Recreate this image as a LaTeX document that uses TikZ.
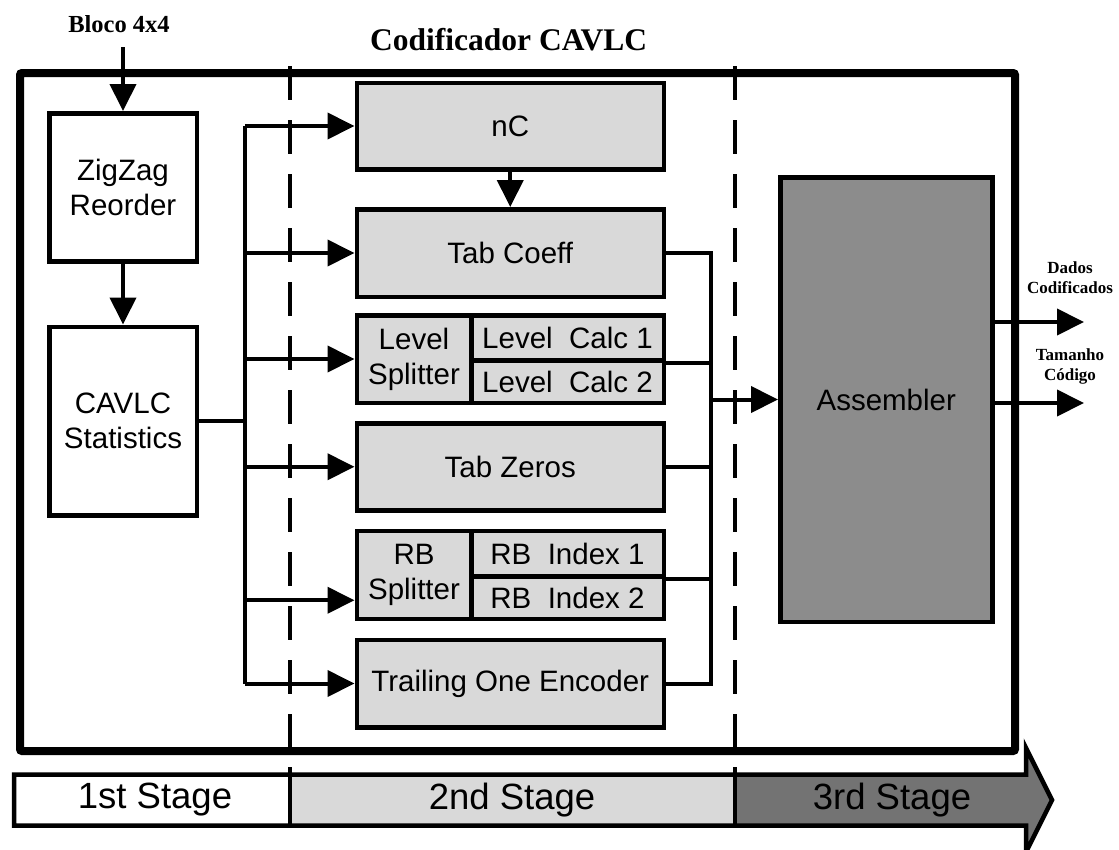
\documentclass[tikz,border=0pt]{standalone}
\usepackage{fontspec}
\setmainfont{Liberation Sans}
\newfontfamily\labelserif{Liberation Serif}
\usetikzlibrary{arrows.meta}

\definecolor{boxgray}{HTML}{D9D9D9}
\definecolor{asmgray}{HTML}{8C8C8C}
\definecolor{stagedark}{HTML}{737373}

\newcommand\boxfont{\fontsize{29.5}{35}\selectfont}
\newcommand\stagefont{\fontsize{36.5}{40}\selectfont}
\newcommand\sidefont{\labelserif\bfseries\fontsize{17}{20}\selectfont}

\begin{document}
\begin{tikzpicture}[x=1pt,y=-1pt,
  box/.style={draw, line width=4.5pt, fill=boxgray, inner sep=0pt,
              align=center, font=\boxfont, anchor=north west},
  wire/.style={line width=4pt},
  arr/.style={wire, -{Triangle[length=27pt,width=26pt]}},
  divider/.style={line width=4pt, dash pattern=on 34pt off 20pt},
  lab/.style={inner sep=0pt, align=center}]

\useasboundingbox (0,0) rectangle (1119,849);

% outer frame of the encoder
\node[draw, line width=8pt, rounded corners=2pt, inner sep=0pt,
      minimum width=995pt, minimum height=678pt, anchor=north west]
      (frame) at (16,69) {};

% stage dividers
\draw[divider] (290,66) -- (290,747);
\draw[divider] (735,66) -- (735,747);

% titles
\node[lab, anchor=base west, font=\labelserif\bfseries\fontsize{31.5}{36}\selectfont]
      (title) at (370,50) {Codificador CAVLC};
\node[lab, anchor=base, font=\labelserif\bfseries\fontsize{24.5}{28}\selectfont]
      (bloco) at (119,32) {Bloco 4x4};

% first stage
\node[box, fill=white, minimum width=147.5pt, minimum height=148pt]
      (zz) at (47,111) {ZigZag\\Reorder};
\node[box, fill=white, minimum width=147.5pt, minimum height=188.5pt]
      (stats) at (47,324.5) {CAVLC\\Statistics};

% second stage
\node[box, minimum width=307pt, minimum height=86.5pt] (nc) at (354.5,80.5) {nC};
\node[box, minimum width=307pt, minimum height=87.5pt] (tc) at (354.5,207) {Tab Coeff};
\node[box, minimum width=114.5pt, minimum height=87.5pt] (levs) at (354.5,313) {Level\\Splitter};
\node[box, minimum width=192.5pt, minimum height=45pt] (lc1) at (469,313) {Level~~Calc 1};
\node[box, minimum width=192.5pt, minimum height=42.5pt] (lc2) at (469,358) {Level~~Calc 2};
\node[box, minimum width=307pt, minimum height=87pt] (tz) at (354.5,421) {Tab Zeros};
\node[box, minimum width=114.5pt, minimum height=88pt] (rbs) at (354.5,528.5) {RB\\Splitter};
\node[box, minimum width=192.5pt, minimum height=45.5pt] (rb1) at (469,528.5) {RB~~Index 1};
\node[box, minimum width=192.5pt, minimum height=42.5pt] (rb2) at (469,574) {RB~~Index 2};
\node[box, minimum width=307pt, minimum height=87.5pt] (trail) at (354.5,637.5) {Trailing One Encoder};

% third stage
\node[box, fill=asmgray, minimum width=212pt, minimum height=444.5pt]
      (asm) at (778,175) {Assembler};

% input side
\draw[arr, shorten <=15pt] (bloco.south -| zz.north) -- (zz.north);
\draw[arr] (zz.south) -- (stats.north);

% distribution bus
\coordinate (bus) at (245,0);
\coordinate (rbin) at ([yshift=-25.5pt]rbs.west);
\draw[wire] (stats.east) -- (stats.east -| bus);
\draw[wire] (nc.west -| bus) -- (trail.west -| bus);
\foreach \n in {nc,tc,levs,tz,trail}
  \draw[arr] (\n.west -| bus) -- (\n.west);
\draw[arr] (rbin -| bus) -- (rbin);
\draw[arr] (nc.south) -- (tc.north);

% collecting bus into the assembler
\coordinate (col) at (711,0);
\draw[wire] (tc.east) -- (tc.east -| col) -- (trail.east -| col) -- (trail.east);
\draw[wire] (lc1.south east) -- (lc1.south east -| col);
\draw[wire] (tz.east) -- (tz.east -| col);
\draw[wire] (rb1.south east) -- (rb1.south east -| col);
\draw[arr] (asm.west -| col) -- (asm.west);

% outputs
\coordinate (out1) at (1084,322);
\coordinate (out2) at (1084,403);
\draw[arr] (asm.east |- out1) -- (out1);
\draw[arr] (asm.east |- out2) -- (out2);
\node[lab, font=\sidefont] (dados) at (1070,278) {Dados\\Codificados};
\node[lab, font=\sidefont] (tam) at (1070,366) {Tamanho\\Código};

% stage arrow
\fill[white] (14,774.5) rectangle (290,825.5);
\fill[boxgray] (290,774.5) rectangle (735,825.5);
\fill[stagedark] (735,774.5) -- (1026,774.5) -- (1026,748) -- (1052,800)
      -- (1026,852) -- (1026,825.5) -- (735,825.5) -- cycle;
\draw[line width=4.5pt, line join=miter] (14,774.5) -- (1026,774.5) -- (1026,748)
      -- (1052,800) -- (1026,852) -- (1026,825.5) -- (14,825.5) -- cycle;
\draw[line width=4pt] (290,767) -- (290,825.5);
\draw[line width=4pt] (735,767) -- (735,825.5);
\node[lab, font=\stagefont] (s1) at (155,800) {1st Stage};
\node[lab, font=\stagefont] (s2) at (512,800) {2nd Stage};
\node[lab, font=\stagefont] (s3) at (892,800) {3rd Stage};

\end{tikzpicture}
\end{document}
